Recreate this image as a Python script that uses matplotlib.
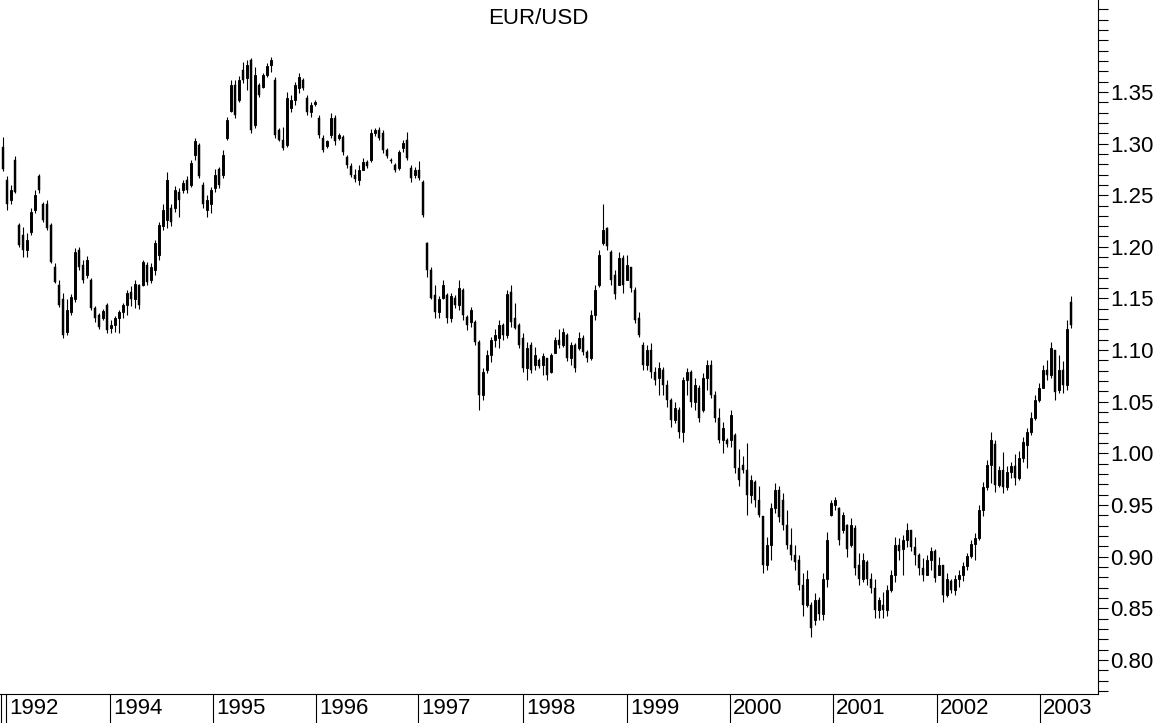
import matplotlib
matplotlib.use('Agg')
import matplotlib.pyplot as plt
import numpy as np
from matplotlib.ticker import FixedLocator, NullFormatter

plt.rcParams['font.family'] = ['Liberation Sans', 'DejaVu Sans']

# weekly-ish EUR/USD candles (bar index = time order)
highs = [
    1.306, 1.269, 1.260, 1.288, 1.223, 1.219, 1.213, 1.238, 1.255, 1.271,
    1.243, 1.245, 1.223, 1.184, 1.168, 1.155, 1.149, 1.154, 1.199, 1.200,
    1.187, 1.191, 1.170, 1.143, 1.136, 1.140, 1.146, 1.129, 1.133, 1.139,
    1.146, 1.158, 1.162, 1.168, 1.164, 1.187, 1.185, 1.184, 1.207, 1.224,
    1.241, 1.272, 1.241, 1.259, 1.257, 1.265, 1.269, 1.284, 1.305, 1.301,
    1.263, 1.250, 1.258, 1.275, 1.277, 1.294, 1.326, 1.362, 1.362, 1.365,
    1.379, 1.381, 1.383, 1.374, 1.359, 1.368, 1.378, 1.384, 1.364, 1.315,
    1.316, 1.350, 1.347, 1.360, 1.368, 1.363, 1.347, 1.340, 1.342, 1.328,
    1.308, 1.303, 1.330, 1.328, 1.310, 1.308, 1.289, 1.281, 1.275, 1.279,
    1.286, 1.284, 1.314, 1.315, 1.316, 1.313, 1.296, 1.286, 1.281, 1.294,
    1.303, 1.311, 1.279, 1.277, 1.283, 1.265, 1.205, 1.180, 1.163, 1.152,
    1.168, 1.155, 1.155, 1.153, 1.168, 1.160, 1.134, 1.142, 1.129, 1.110,
    1.083, 1.100, 1.113, 1.120, 1.129, 1.126, 1.158, 1.163, 1.146, 1.126,
    1.117, 1.108, 1.108, 1.103, 1.092, 1.097, 1.092, 1.097, 1.113, 1.120,
    1.121, 1.117, 1.108, 1.107, 1.118, 1.115, 1.100, 1.139, 1.163, 1.197,
    1.241, 1.219, 1.197, 1.178, 1.195, 1.192, 1.192, 1.180, 1.161, 1.137,
    1.108, 1.105, 1.107, 1.084, 1.088, 1.084, 1.071, 1.054, 1.050, 1.045,
    1.074, 1.083, 1.081, 1.073, 1.066, 1.078, 1.090, 1.090, 1.060, 1.044,
    1.030, 1.015, 1.042, 1.020, 1.004, 0.997, 1.010, 0.979, 0.974, 0.968,
    0.939, 0.919, 0.952, 0.971, 0.968, 0.962, 0.945, 0.928, 0.911, 0.902,
    0.884, 0.887, 0.856, 0.865, 0.861, 0.884, 0.924, 0.955, 0.958, 0.948,
    0.943, 0.932, 0.937, 0.931, 0.904, 0.904, 0.897, 0.884, 0.878, 0.861,
    0.866, 0.873, 0.887, 0.919, 0.918, 0.921, 0.933, 0.926, 0.919, 0.904,
    0.899, 0.902, 0.909, 0.907, 0.900, 0.892, 0.884, 0.878, 0.882, 0.887,
    0.895, 0.904, 0.916, 0.923, 0.950, 0.972, 0.994, 1.021, 1.013, 0.988,
    1.001, 0.988, 0.992, 0.999, 1.002, 1.016, 1.025, 1.040, 1.057, 1.068,
    1.086, 1.090, 1.108, 1.100, 1.095, 1.089, 1.129, 1.152,
]
lows = [
    1.273, 1.236, 1.241, 1.252, 1.200, 1.190, 1.190, 1.211, 1.233, 1.252,
    1.224, 1.216, 1.184, 1.165, 1.142, 1.112, 1.115, 1.134, 1.147, 1.178,
    1.165, 1.170, 1.139, 1.127, 1.120, 1.129, 1.117, 1.117, 1.118, 1.117,
    1.131, 1.134, 1.143, 1.141, 1.140, 1.162, 1.163, 1.165, 1.173, 1.187,
    1.216, 1.218, 1.220, 1.234, 1.229, 1.252, 1.252, 1.258, 1.284, 1.267,
    1.238, 1.229, 1.233, 1.253, 1.257, 1.267, 1.303, 1.331, 1.325, 1.340,
    1.359, 1.352, 1.310, 1.315, 1.345, 1.354, 1.364, 1.369, 1.305, 1.302,
    1.294, 1.297, 1.331, 1.337, 1.349, 1.352, 1.328, 1.326, 1.336, 1.305,
    1.292, 1.296, 1.305, 1.299, 1.303, 1.289, 1.276, 1.268, 1.263, 1.260,
    1.274, 1.276, 1.282, 1.307, 1.303, 1.291, 1.286, 1.281, 1.272, 1.274,
    1.292, 1.284, 1.263, 1.267, 1.265, 1.229, 1.171, 1.149, 1.131, 1.131,
    1.149, 1.126, 1.127, 1.141, 1.139, 1.129, 1.119, 1.122, 1.105, 1.042,
    1.052, 1.078, 1.088, 1.103, 1.102, 1.110, 1.112, 1.122, 1.120, 1.102,
    1.079, 1.071, 1.078, 1.081, 1.083, 1.076, 1.071, 1.078, 1.097, 1.102,
    1.103, 1.089, 1.086, 1.079, 1.100, 1.095, 1.088, 1.090, 1.129, 1.161,
    1.202, 1.197, 1.163, 1.149, 1.163, 1.155, 1.168, 1.156, 1.126, 1.113,
    1.081, 1.081, 1.073, 1.066, 1.057, 1.057, 1.045, 1.026, 1.029, 1.015,
    1.011, 1.057, 1.045, 1.042, 1.030, 1.040, 1.061, 1.054, 1.030, 1.010,
    1.000, 1.006, 1.006, 0.981, 0.968, 0.981, 0.940, 0.952, 0.948, 0.938,
    0.884, 0.887, 0.897, 0.942, 0.934, 0.926, 0.907, 0.897, 0.887, 0.868,
    0.843, 0.851, 0.822, 0.834, 0.839, 0.839, 0.871, 0.939, 0.945, 0.911,
    0.923, 0.900, 0.909, 0.882, 0.873, 0.875, 0.873, 0.865, 0.841, 0.841,
    0.841, 0.843, 0.866, 0.875, 0.897, 0.882, 0.909, 0.905, 0.892, 0.882,
    0.876, 0.882, 0.887, 0.875, 0.882, 0.856, 0.861, 0.865, 0.863, 0.871,
    0.876, 0.887, 0.899, 0.897, 0.916, 0.939, 0.965, 0.971, 0.963, 0.967,
    0.962, 0.965, 0.976, 0.969, 0.974, 0.992, 0.986, 1.018, 1.032, 1.050,
    1.063, 1.071, 1.073, 1.052, 1.058, 1.058, 1.061, 1.121,
]
opens = [
    1.297, 1.265, 1.245, 1.284, 1.221, 1.211, 1.197, 1.214, 1.236, 1.269,
    1.241, 1.241, 1.221, 1.180, 1.163, 1.149, 1.118, 1.137, 1.149, 1.197,
    1.182, 1.173, 1.168, 1.141, 1.134, 1.131, 1.144, 1.121, 1.124, 1.131,
    1.137, 1.144, 1.156, 1.149, 1.163, 1.163, 1.182, 1.168, 1.178, 1.192,
    1.220, 1.226, 1.238, 1.238, 1.253, 1.255, 1.265, 1.260, 1.289, 1.299,
    1.260, 1.236, 1.241, 1.257, 1.275, 1.270, 1.305, 1.332, 1.357, 1.342,
    1.371, 1.363, 1.381, 1.318, 1.357, 1.355, 1.366, 1.376, 1.362, 1.313,
    1.303, 1.299, 1.334, 1.342, 1.354, 1.362, 1.344, 1.331, 1.338, 1.325,
    1.305, 1.298, 1.308, 1.325, 1.305, 1.306, 1.287, 1.278, 1.270, 1.265,
    1.274, 1.282, 1.284, 1.310, 1.313, 1.310, 1.294, 1.284, 1.279, 1.276,
    1.296, 1.303, 1.276, 1.270, 1.274, 1.263, 1.204, 1.178, 1.153, 1.137,
    1.150, 1.153, 1.131, 1.150, 1.144, 1.158, 1.132, 1.127, 1.127, 1.108,
    1.057, 1.081, 1.095, 1.110, 1.112, 1.124, 1.115, 1.156, 1.131, 1.124,
    1.112, 1.083, 1.105, 1.086, 1.090, 1.086, 1.092, 1.079, 1.097, 1.110,
    1.105, 1.115, 1.092, 1.105, 1.102, 1.112, 1.098, 1.092, 1.134, 1.163,
    1.204, 1.218, 1.195, 1.173, 1.163, 1.189, 1.168, 1.180, 1.158, 1.131,
    1.105, 1.086, 1.100, 1.079, 1.073, 1.081, 1.066, 1.052, 1.032, 1.042,
    1.021, 1.071, 1.079, 1.050, 1.063, 1.042, 1.073, 1.086, 1.057, 1.034,
    1.013, 1.013, 1.013, 1.018, 0.986, 0.989, 0.984, 0.960, 0.972, 0.955,
    0.939, 0.892, 0.911, 0.947, 0.965, 0.955, 0.931, 0.911, 0.902, 0.897,
    0.873, 0.853, 0.853, 0.839, 0.858, 0.844, 0.878, 0.940, 0.950, 0.947,
    0.926, 0.931, 0.911, 0.928, 0.892, 0.878, 0.895, 0.878, 0.870, 0.848,
    0.853, 0.848, 0.868, 0.882, 0.911, 0.907, 0.916, 0.926, 0.909, 0.902,
    0.889, 0.882, 0.897, 0.905, 0.882, 0.892, 0.863, 0.876, 0.868, 0.878,
    0.882, 0.891, 0.901, 0.912, 0.918, 0.945, 0.967, 0.989, 1.009, 0.969,
    0.984, 0.967, 0.982, 0.988, 0.976, 0.996, 1.008, 1.021, 1.034, 1.052,
    1.063, 1.081, 1.076, 1.100, 1.061, 1.081, 1.066, 1.147,
]
closes = [
    1.275, 1.241, 1.255, 1.253, 1.202, 1.197, 1.207, 1.234, 1.250, 1.255,
    1.226, 1.218, 1.185, 1.166, 1.144, 1.115, 1.139, 1.151, 1.195, 1.180,
    1.168, 1.187, 1.141, 1.131, 1.122, 1.138, 1.119, 1.124, 1.131, 1.137,
    1.144, 1.155, 1.149, 1.164, 1.144, 1.185, 1.166, 1.180, 1.204, 1.221,
    1.236, 1.265, 1.224, 1.255, 1.245, 1.262, 1.255, 1.281, 1.302, 1.269,
    1.241, 1.245, 1.255, 1.270, 1.260, 1.289, 1.323, 1.357, 1.328, 1.362,
    1.362, 1.376, 1.313, 1.366, 1.347, 1.366, 1.375, 1.381, 1.308, 1.303,
    1.296, 1.344, 1.342, 1.357, 1.364, 1.354, 1.331, 1.337, 1.340, 1.308,
    1.294, 1.302, 1.325, 1.302, 1.308, 1.292, 1.279, 1.270, 1.266, 1.274,
    1.282, 1.278, 1.310, 1.313, 1.305, 1.294, 1.288, 1.283, 1.274, 1.292,
    1.301, 1.286, 1.267, 1.274, 1.267, 1.231, 1.178, 1.150, 1.137, 1.149,
    1.163, 1.131, 1.152, 1.144, 1.160, 1.134, 1.124, 1.139, 1.108, 1.057,
    1.079, 1.095, 1.110, 1.115, 1.124, 1.115, 1.154, 1.127, 1.121, 1.105,
    1.083, 1.102, 1.081, 1.095, 1.085, 1.094, 1.076, 1.095, 1.110, 1.105,
    1.118, 1.092, 1.105, 1.083, 1.112, 1.098, 1.092, 1.134, 1.158, 1.192,
    1.216, 1.201, 1.168, 1.154, 1.189, 1.163, 1.182, 1.160, 1.129, 1.115,
    1.086, 1.100, 1.079, 1.071, 1.083, 1.066, 1.052, 1.032, 1.044, 1.021,
    1.071, 1.079, 1.050, 1.066, 1.034, 1.073, 1.086, 1.057, 1.034, 1.013,
    1.025, 1.009, 1.037, 0.986, 0.974, 0.984, 0.960, 0.974, 0.955, 0.940,
    0.892, 0.911, 0.947, 0.965, 0.938, 0.931, 0.911, 0.902, 0.895, 0.873,
    0.853, 0.878, 0.831, 0.858, 0.844, 0.878, 0.916, 0.952, 0.955, 0.916,
    0.940, 0.907, 0.931, 0.889, 0.878, 0.897, 0.878, 0.870, 0.848, 0.858,
    0.848, 0.868, 0.882, 0.911, 0.905, 0.916, 0.926, 0.909, 0.902, 0.889,
    0.882, 0.897, 0.905, 0.879, 0.892, 0.863, 0.878, 0.868, 0.878, 0.882,
    0.891, 0.901, 0.912, 0.918, 0.945, 0.967, 0.989, 1.013, 0.969, 0.984,
    0.967, 0.982, 0.988, 0.976, 0.996, 1.011, 1.021, 1.034, 1.052, 1.063,
    1.081, 1.076, 1.102, 1.059, 1.081, 1.066, 1.120, 1.124,
]

# bar index where each year label starts on the time axis
year_labels = ['1992', '1994', '1995', '1996', '1997', '1998',
               '1999', '2000', '2001', '2002', '2003']
year_starts = [0.75, 26.75, 52.5, 78.25, 103.75, 130, 156, 181.75, 207.5, 233.5, 259.25]
price_ticks = [0.80, 0.85, 0.90, 0.95, 1.00, 1.05, 1.10, 1.15, 1.20, 1.25, 1.30, 1.35]

o = np.array(opens)
c = np.array(closes)
h = np.array(highs)
l = np.array(lows)
x = np.arange(len(o))
up = c >= o

fig = plt.figure(figsize=(11.62, 7.23), dpi=100)
ax = fig.add_axes([0, 29 / 723, 1098 / 1162, 694 / 723])

ax.vlines(x, l, h, color='black', linewidth=0.8)
body_lo = np.minimum(o, c)
body_h = np.maximum(np.abs(c - o), 0.0008)
ax.bar(x[~up], body_h[~up], bottom=body_lo[~up], width=0.62, color='black',
       edgecolor='black', linewidth=0.3)
ax.bar(x[up], body_h[up], bottom=body_lo[up], width=0.7, color='white',
       edgecolor='black', linewidth=0.7)

ax.set_xlim(-0.75, 273.75)
ax.set_ylim(0.767, 1.439)

for s in ['left', 'top']:
    ax.spines[s].set_visible(False)
for s in ['bottom', 'right']:
    ax.spines[s].set_linewidth(0.8)

# right price axis
ax.yaxis.set_ticks_position('right')
ax.set_yticks(price_ticks)
ax.set_yticklabels(['%.2f' % p for p in price_ticks])
ax.yaxis.set_minor_locator(FixedLocator(np.arange(0.77, 1.435, 0.01)))
ax.tick_params(axis='y', which='both', direction='out', length=7, width=0.8,
               pad=2, labelsize=16, colors='black')

# time axis: separator lines with labels to their right
ax.set_xticks(year_starts)
ax.xaxis.set_major_formatter(NullFormatter())
ax.xaxis.set_minor_locator(FixedLocator([-0.5]))
ax.tick_params(axis='x', which='both', direction='out', length=22, width=0.8)
for pos, lab in zip(year_starts, year_labels):
    ax.annotate(lab, xy=(pos, 0), xycoords=ax.get_xaxis_transform(),
                xytext=(2, -3), textcoords='offset points',
                ha='left', va='top', fontsize=16)

fig.text(538 / 1162, 1 - 8 / 723, 'EUR/USD', ha='center', va='top', fontsize=16)

fig.savefig('out.png', dpi=100)
